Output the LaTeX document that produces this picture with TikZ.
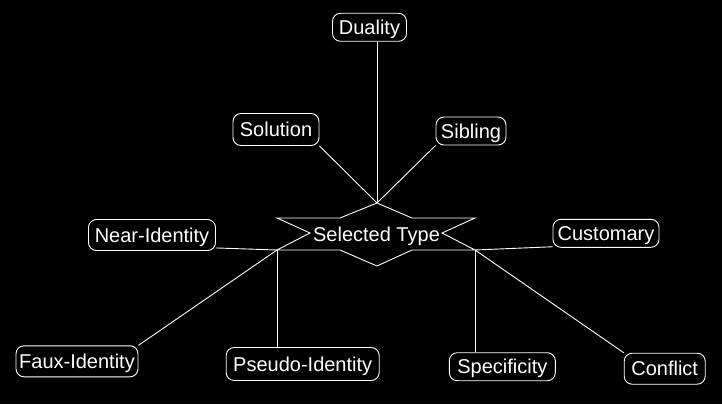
\documentclass[tikz,border=0pt]{standalone}
\usepackage{fontspec}
\setmainfont{Liberation Sans}
\pgfdeclarelayer{bg}
\pgfdeclarelayer{lines}
\pgfsetlayers{bg,lines,main}
\tikzset{
  box/.style={draw=white, line width=0.9pt, rounded corners=8pt, fill=black, text=white,
    inner sep=0pt, text height=14.3pt, text depth=0pt, font=\fontsize{20}{24}\selectfont},
  link/.style={draw=white, line width=0.9pt},
}
\begin{document}
\begin{tikzpicture}[x=1pt,y=-1pt]
\begin{pgfonlayer}{bg}
\fill[black] (0,0) rectangle (722,404);
\end{pgfonlayer}
\useasboundingbox (0,0) rectangle (722,404);
% central star shape
\coordinate (top) at (377,203);
\coordinate (lc) at (277,250);
\coordinate (rc) at (475,250);
\draw[link, fill=black] (top) -- (412,218) -- (475,218) -- (442,233) -- (rc) -- (412,250)
  -- (377,266) -- (340,250) -- (lc) -- (310,233) -- (277,218) -- (340,218) -- cycle;
\node[text=white, inner sep=0pt, text height=14.3pt, text depth=0pt, font=\fontsize{20}{24}\selectfont] (sel) at (376.5,234) {Selected Type};
% boxes
\node[box, minimum width=74pt, minimum height=28pt] (dual) at (369.5,27.3) {Duality};
\node[box, minimum width=86pt, minimum height=32pt] (sol) at (276,129.5) {Solution};
\node[box, minimum width=70pt, minimum height=28pt] (sib) at (471,131) {Sibling};
\node[box, minimum width=127pt, minimum height=31pt] (near) at (152,235) {Near-Identity};
\node[box, minimum width=106pt, minimum height=28pt] (cust) at (606,233.3) {Customary};
\node[box, minimum width=122pt, minimum height=31pt] (faux) at (77,361.3) {Faux-Identity};
\node[box, minimum width=153pt, minimum height=33pt] (pseudo) at (302.7,364) {Pseudo-Identity};
\node[box, minimum width=106pt, minimum height=28pt] (spec) at (502.3,366.7) {Specificity};
\node[box, minimum width=81pt, minimum height=31pt] (conf) at (664.7,368.7) {Conflict};
% connectors
\begin{pgfonlayer}{lines}
\draw[link] (top) -- (top |- dual.south);
\draw[link] (top) -- (sol.south east);
\draw[link] (top) -- (sib.south west);
\draw[link] (lc) -- ([yshift=3pt]near.south east);
\draw[link] (lc) -- (faux.north east);
\draw[link] (lc) -- (lc |- pseudo.north);
\draw[link] (rc) -- ([yshift=1pt]cust.south west);
\draw[link] (rc) -- (rc |- spec.north);
\draw[link] (rc) -- (conf.north west);
\end{pgfonlayer}
\end{tikzpicture}
\end{document}
